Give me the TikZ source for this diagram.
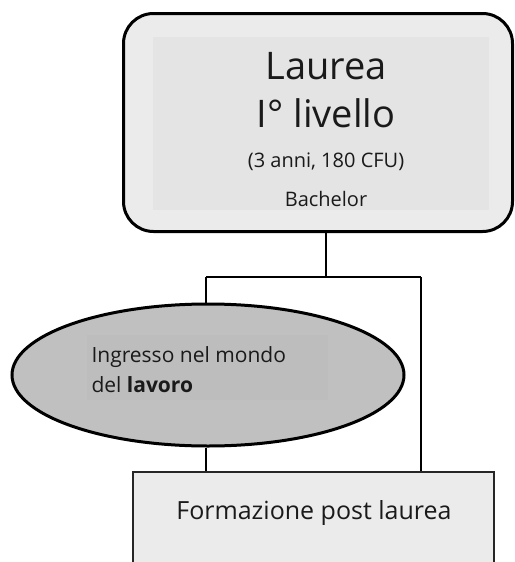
\documentclass[tikz,border=0pt]{standalone}
\usepackage{fontspec}
\setmainfont{Open Sans}
\usetikzlibrary{shapes.geometric}
\definecolor{boxgray}{HTML}{EBEBEB}
\definecolor{innergray}{HTML}{E4E4E4}
\definecolor{ellgray}{HTML}{C0C0C0}
\definecolor{ellinner}{HTML}{BDBDBD}
\definecolor{textdark}{HTML}{1A1A1A}
\tikzset{
  thickborder/.style={draw=black, line width=3pt},
  conn/.style={draw=black, line width=1.5pt},
}
\begin{document}
\begin{tikzpicture}[x=1pt,y=-1pt]
\useasboundingbox (0,0) rectangle (514,562);
\clip (0,0) rectangle (514,562);
% top box
\node[thickborder, fill=boxgray, rounded corners=30pt, minimum width=389pt, minimum height=218pt, inner sep=0pt] (top) at (318,122.5) {};
\node[fill=innergray, minimum width=336pt, minimum height=173pt, inner sep=0pt] (topin) at (321,123.5) {};
\node[text=textdark, font=\fontsize{38}{40}\selectfont] (l1) at (326,66) {Laurea};
\node[text=textdark, font=\fontsize{38}{40}\selectfont] (l2) at (326,113) {I° livello};
\node[text=textdark, font=\fontsize{20}{22}\selectfont] (l3) at (326,162) {(3 anni, 180 CFU)};
\node[text=textdark, font=\fontsize{20}{22}\selectfont] (l4) at (326,199) {Bachelor};
% ellipse
\node[ellipse, thickborder, fill=ellgray, minimum width=392pt, minimum height=142pt, inner sep=0pt] (ell) at (208,375) {};
\node[fill=ellinner, minimum width=241pt, minimum height=65pt, inner sep=0pt] (ellin) at (207.5,367.5) {};
\node[anchor=west, text=textdark, font=\fontsize{21}{30}\selectfont, align=left] (etxt) at (88,370) {Ingresso nel mondo\\del \textbf{lavoro}};
% bottom rect
\node[draw=black!85, line width=1.5pt, fill=boxgray, minimum width=361pt, minimum height=140pt, inner sep=0pt, anchor=north] (post) at (313.5,471) {};
\node[text=textdark, font=\fontsize{25}{28}\selectfont] (ptxt) at (314,513) {Formazione post laurea};
% connectors
\coordinate (j) at (326,277);
\coordinate (jl) at (206,277);
\coordinate (jr) at (421,277);
\draw[conn] (top.south -| j) -- (j);
\draw[conn] (jl) -- (jr);
\draw[conn] (jl) -- (jl |- ell.north);
\draw[conn] (jr) -- (jr |- post.north);
\draw[conn] (jl |- ell.south) -- (jl |- post.north);
\end{tikzpicture}
\end{document}
